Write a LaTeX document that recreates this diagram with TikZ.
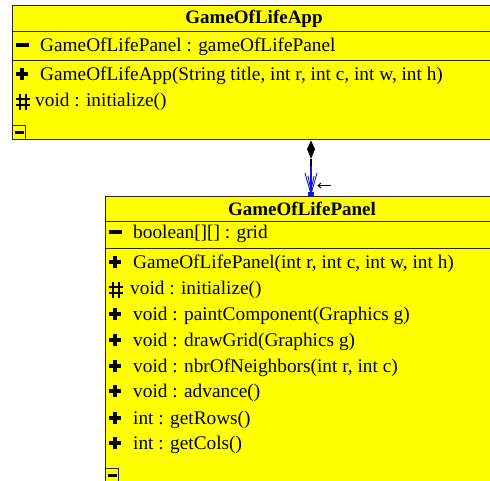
\documentclass[tikz,border=0pt]{standalone}
\usepackage{fontspec}
\setmainfont{Liberation Serif}
\usetikzlibrary{arrows.meta}
\definecolor{umlyellow}{RGB}{255,255,0}
\definecolor{umlline}{RGB}{40,40,40}
\definecolor{umlblue}{RGB}{20,20,220}
\tikzset{
  classbox/.style={draw=umlline, line width=1.4pt, fill=umlyellow},
  sepline/.style={draw=umlline, line width=1.4pt},
  titletext/.style={font=\fontsize{19}{22}\selectfont\bfseries, inner sep=0pt},
  membertext/.style={font=\fontsize{19.3}{22}\selectfont, anchor=west, inner sep=0pt},
  symbox/.style={minimum width=13pt, minimum height=13pt, inner sep=0pt, draw=none},
  pluspen/.style={draw=black, line width=3.2pt},
  sharppen/.style={draw=black, line width=1.1pt},
  minusbar/.style={fill=black, draw=none, minimum width=13pt, minimum height=3.2pt, inner sep=0pt},
  collapsebox/.style={draw=umlline, line width=1.2pt, fill=umlyellow, minimum width=13pt, minimum height=14pt, inner sep=0pt, anchor=north west},
  bluepen/.style={draw=umlblue, line width=0.9pt}
}
\newcommand{\plussym}[1]{%
  \draw[pluspen] ([xshift=-6pt]#1.center) -- ([xshift=6pt]#1.center);
  \draw[pluspen] ([yshift=-6pt]#1.center) -- ([yshift=6pt]#1.center);}
\newcommand{\sharpsym}[1]{%
  \draw[sharppen] ([xshift=-7pt,yshift=-3pt]#1.center) -- ([xshift=7pt,yshift=-3pt]#1.center);
  \draw[sharppen] ([xshift=-7pt,yshift=3pt]#1.center) -- ([xshift=7pt,yshift=3pt]#1.center);
  \draw[sharppen] ([xshift=-3pt,yshift=-8pt]#1.center) -- ([xshift=-3pt,yshift=8pt]#1.center);
  \draw[sharppen] ([xshift=3pt,yshift=-8pt]#1.center) -- ([xshift=3pt,yshift=8pt]#1.center);}
\begin{document}
\begin{tikzpicture}[x=1pt,y=-1pt]
\useasboundingbox (0,0) rectangle (490,480);
\clip (0,0) rectangle (490,480);
\fill[white] (0,0) rectangle (490,480);

% ---------- GameOfLifeApp ----------
\node[classbox, anchor=north west, minimum width=500pt, minimum height=134pt, inner sep=0pt] (app) at (12,5) {};
\draw[sepline] (12,31.5) -- (512,31.5);
\draw[sepline] (12,60.5) -- (512,60.5);
\node[titletext] (apptitle) at (254,18.5) {GameOfLifeApp};
\node[minusbar] (appm1) at (22,45) {};
\node[membertext] (appa1) at (40,47) {GameOfLifePanel : gameOfLifePanel};
\node[symbox] (apps1) at (22,74) {}; \plussym{apps1}
\node[membertext] (appo1) at (40,76) {GameOfLifeApp(String title, int r, int c, int w, int h)};
\node[symbox] (apps2) at (23,102) {}; \sharpsym{apps2}
\node[membertext] (appo2) at (35,102) {void : initialize()};
\node[collapsebox] (appcol) at (12,125) {};
\node[minusbar, minimum width=9pt, minimum height=3pt] (appcolm) at (appcol.center) {};

% ---------- GameOfLifePanel ----------
\node[classbox, anchor=north west, minimum width=400pt, minimum height=300pt, inner sep=0pt] (panel) at (105,195.5) {};
\draw[sepline] (105,221.7) -- (512,221.7);
\draw[sepline] (105,248.3) -- (512,248.3);
\node[titletext] (paneltitle) at (302,208.5) {GameOfLifePanel};
\node[minusbar] (panm1) at (115,232) {};
\node[membertext] (pana1) at (133,234) {boolean[][] : grid};
\node[symbox] (pans1) at (115,262) {}; \plussym{pans1}
\node[membertext] (pano1) at (133,264) {GameOfLifePanel(int r, int c, int w, int h)};
\node[symbox] (pans2) at (116,290) {}; \sharpsym{pans2}
\node[membertext] (pano2) at (130,290) {void : initialize()};
\node[symbox] (pans3) at (115,314) {}; \plussym{pans3}
\node[membertext] (pano3) at (133,316) {void : paintComponent(Graphics g)};
\node[symbox] (pans4) at (115,340) {}; \plussym{pans4}
\node[membertext] (pano4) at (133,342) {void : drawGrid(Graphics g)};
\node[symbox] (pans5) at (115,366) {}; \plussym{pans5}
\node[membertext] (pano5) at (133,368) {void : nbrOfNeighbors(int r, int c)};
\node[symbox] (pans6) at (115,391) {}; \plussym{pans6}
\node[membertext] (pano6) at (133,393) {void : advance()};
\node[symbox] (pans7) at (115,418) {}; \plussym{pans7}
\node[membertext] (pano7) at (133,420) {int : getRows()};
\node[symbox] (pans8) at (115,443) {}; \plussym{pans8}
\node[membertext] (pano8) at (133,445) {int : getCols()};
\node[collapsebox] (pancol) at (105,468) {};
\node[minusbar, minimum width=9pt, minimum height=3pt] (pancolm) at (pancol.center) {};

% ---------- composition connector ----------
\coordinate (dtop) at (app.south -| 311,0);
\coordinate (dbot) at (311,159);
\coordinate (mid) at (311,166);
\coordinate (tip) at (panel.north -| 311,0);
\fill[black] (dtop) -- (315,149) -- (dbot) -- (307,149) -- cycle;
\draw[black, line width=1.2pt] (dbot) -- (mid);
\draw[bluepen, line width=1.2pt] (mid) -- (tip);
\draw[bluepen] (305,173) -- (311,194) -- (317,173);
\draw[bluepen] (308,176) -- (311,190) -- (314,176);
\fill[umlblue] (308,191.5) rectangle (314,196);
\coordinate (lblL) at (318,185.5);
\coordinate (lblR) at (331,185.5);
\draw[black, line width=0.9pt] (lblR) -- (lblL);
\draw[black, line width=0.9pt] (321,183) -- (lblL) -- (321,188);
\end{tikzpicture}
\end{document}
